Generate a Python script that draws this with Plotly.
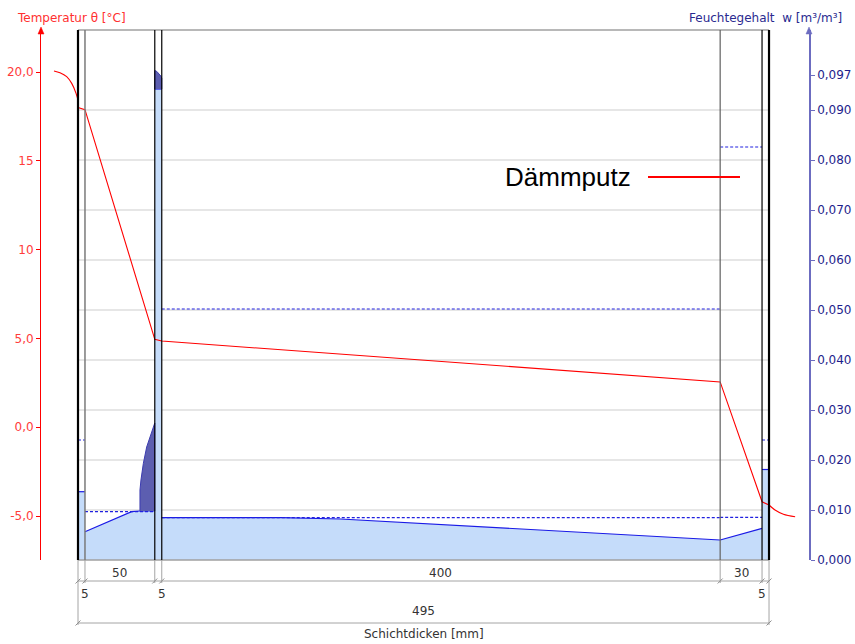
import numpy as np
import plotly.graph_objects as go

# ---------------- data ----------------
layer_thickness_mm = [5, 50, 5, 400, 30, 5]
layer_dim_text = ["5", "50", "5", "400", "30", "5"]
total_dim_text = "495"
x_axis_title = "Schichtdicken [mm]"
legend_name = "Dämmputz"
temp_title = "Temperatur θ [°C]"
moist_title = "Feuchtegehalt\u00a0 w [m³/m³]"

temp_tick_vals = [-5, 0, 5, 10, 15, 20]
temp_tick_text = ["-5,0", "0,0", "5,0", "10", "15", "20,0"]
moist_tick_vals = [0.0, 0.01, 0.02, 0.03, 0.04, 0.05, 0.06, 0.07, 0.08, 0.09, 0.097]
moist_tick_text = ["0,000", "0,010", "0,020", "0,030", "0,040", "0,050",
                   "0,060", "0,070", "0,080", "0,090", "0,097"]
grid_moist_vals = [0.01, 0.02, 0.03, 0.04, 0.05, 0.06, 0.07, 0.08, 0.09]

# temperature profile (inside air, wall, outside air)
temp_in_x_mm = [-17.2, -12.9, -8.1, -4.5, -1.4, 0.0]
temp_in_c = [20.06, 19.96, 19.74, 19.36, 18.80, 18.40]
temp_wall_x_mm = [0, 5, 55, 60, 460, 490, 495]
temp_wall_c = [18.00, 17.88, 4.95, 4.85, 2.55, -4.20, -4.38]
temp_out_x_mm = [495, 499.3, 505.3, 513.7]
temp_out_c = [-4.38, -4.66, -4.90, -5.04]

# moisture content per layer
moist_x_mm = [[0, 5], [5, 38.4, 44.4, 55], [55, 60],
              [60, 146, 188, 259, 454, 460], [460, 490], [490, 495]]
moist_w = [[0.01366, 0.01366], [0.00566, 0.00966, 0.0098, 0.0098], [0.0942, 0.0942],
           [0.00846, 0.00846, 0.0082, 0.0071, 0.0040, 0.0040], [0.0040, 0.00634],
           [0.0181, 0.0181]]

# condensation zones
cond_a_x_mm = [44.4, 45.1, 46.8, 49.2, 51.6, 55]
cond_a_top = [0.0140, 0.0160, 0.0193, 0.0226, 0.0246, 0.0274]
cond_a_base = 0.0098
cond_b_x_mm = [55, 56.5, 58, 59.3, 60]
cond_b_top = [0.0979, 0.0977, 0.0973, 0.0968, 0.0964]
cond_b_base = 0.0942

# reference moisture contents (dashed) per layer
ref_moist_w = [[0.024], [0.00966], [], [0.00846, 0.0502], [0.00854, 0.0826], [0.024]]

# ---------------- layout geometry ----------------
W, H = 855, 644
ML, MR, MT, MB = 41, 46, 30, 84
PW, PH = W - ML - MR, H - MT - MB
WALL_PX = 78          # pixel of x = 0 mm
PX_PER_MM = 1.396
x_range = [-(WALL_PX - ML) / PX_PER_MM, (W - MR - WALL_PX) / PX_PER_MM]
temp_range = [-7.477, 22.365]
moist_range = [0.0, 0.106]


def py(ypx):
    return (H - MB - ypx) / PH


def pxp(xpx):
    return (xpx - ML) / PW


def mm(dpx):
    return dpx / PX_PER_MM


bounds = np.concatenate([[0], np.cumsum(layer_thickness_mm)])
total = bounds[-1]

FILL = "#c5dcfa"
WLINE = "#1a1ae6"
COND = "#5c5eb0"
RED = "#ff0000"
DIM = "#a4a4a4"
TXT = "#333333"
FONT = "DejaVu Sans"

fig = go.Figure()

# moisture fills
for xs, ws in zip(moist_x_mm, moist_w):
    fig.add_trace(go.Scatter(x=xs, y=ws, yaxis="y", mode="lines", fill="tozeroy",
                             fillcolor=FILL, line=dict(color=WLINE, width=1.2),
                             hoverinfo="skip", showlegend=False))

# condensation zones
for cx, ct, cb in [(cond_a_x_mm, cond_a_top, cond_a_base), (cond_b_x_mm, cond_b_top, cond_b_base)]:
    px_ = [cx[0]] + list(cx) + [cx[-1]]
    py_ = [cb] + list(ct) + [cb]
    fig.add_trace(go.Scatter(x=px_, y=py_, yaxis="y", mode="lines", fill="toself",
                             fillcolor=COND, line=dict(color="#3c3cb0", width=1),
                             hoverinfo="skip", showlegend=False))

# dashed reference lines
for i, refs in enumerate(ref_moist_w):
    for r in refs:
        fig.add_trace(go.Scatter(x=[bounds[i], bounds[i + 1]], y=[r, r], yaxis="y",
                                 mode="lines", line=dict(color="#2020e0", width=1.2, dash="3px,2px"),
                                 hoverinfo="skip", showlegend=False))

# temperature
fig.add_trace(go.Scatter(x=temp_in_x_mm, y=temp_in_c, yaxis="y2", mode="lines",
                         line=dict(color=RED, width=1.1, shape="spline"), showlegend=False))
fig.add_trace(go.Scatter(x=temp_wall_x_mm, y=temp_wall_c, yaxis="y2", mode="lines",
                         line=dict(color=RED, width=1.1), showlegend=False))
fig.add_trace(go.Scatter(x=temp_out_x_mm, y=temp_out_c, yaxis="y2", mode="lines",
                         line=dict(color=RED, width=1.1, shape="spline"), showlegend=False))

shapes = []
# gridlines
for g in grid_moist_vals:
    shapes.append(dict(type="line", xref="x", yref="y", x0=0, x1=total, y0=g, y1=g,
                       line=dict(color="#dedede", width=1.3), layer="below"))
# top / bottom border
for yb in (0, 1):
    shapes.append(dict(type="line", xref="x", yref="paper", x0=0, x1=total, y0=yb, y1=yb,
                       line=dict(color="#a0a0a0", width=1.5), layer="above"))
# layer boundaries
b_colors = ["#000000", "#7a7a7a", "#000000", "#000000", "#606060", "#000000", "#000000"]
b_widths = [2.2, 1.5, 1.2, 1.2, 1.2, 1.2, 2.2]
for b, c, w in zip(bounds, b_colors, b_widths):
    shapes.append(dict(type="line", xref="x", yref="paper", x0=b, x1=b, y0=0, y1=1,
                       line=dict(color=c, width=w), layer="above"))

# dimension lines
ROW1, ROW2 = 581, 623
shapes.append(dict(type="line", xref="x", yref="paper", x0=0, x1=total, y0=py(ROW1), y1=py(ROW1),
                   line=dict(color=DIM, width=1)))
shapes.append(dict(type="line", xref="x", yref="paper", x0=0, x1=total, y0=py(ROW2), y1=py(ROW2),
                   line=dict(color=DIM, width=1)))
for i, b in enumerate(bounds):
    outer = i == 0 or i == len(bounds) - 1
    yend = ROW2 + 2 if outer else ROW1 + 2
    shapes.append(dict(type="line", xref="x", yref="paper", x0=b, x1=b, y0=0, y1=py(yend),
                       line=dict(color=DIM, width=1)))
    rows = [ROW1, ROW2] if outer else [ROW1]
    for r in rows:
        shapes.append(dict(type="line", xref="x", yref="paper", x0=b - mm(2.5), x1=b + mm(2.5),
                           y0=py(r + 2.5), y1=py(r - 2.5), line=dict(color="#909090", width=1)))

# axis arrows
for xa, col in ((ML, RED), (W - MR, "#6c6cc0")):
    shapes.append(dict(type="path", xref="paper", yref="paper",
                       path=f"M {pxp(xa)} {py(27)} L {pxp(xa - 3)} {py(34)} L {pxp(xa + 3)} {py(34)} Z",
                       fillcolor=col, line=dict(color=col, width=0.5)))

# legend line
shapes.append(dict(type="line", xref="paper", yref="paper", x0=pxp(648), x1=pxp(740),
                   y0=py(177), y1=py(177), line=dict(color=RED, width=2)))


def ann(x, y, text, xref="paper", size=12, color=TXT, family=FONT, xanchor="center"):
    return dict(x=x, y=y, xref=xref, yref="paper", text=text, showarrow=False,
                xanchor=xanchor, yanchor="middle",
                font=dict(family=family, size=size, color=color))


annotations = []
center = total / 2
for i, t in enumerate(layer_dim_text):
    th = layer_thickness_mm[i]
    if th >= 10:
        annotations.append(ann((bounds[i] + bounds[i + 1]) / 2, py(573), t, xref="x"))
    else:
        xb = bounds[i + 1] if bounds[i + 1] < center else bounds[i]
        annotations.append(ann(xb, py(594), t, xref="x"))
annotations.append(ann(center, py(611), total_dim_text, xref="x"))
annotations.append(ann(center, py(634), x_axis_title, xref="x"))
annotations.append(ann(pxp(71), py(18), temp_title, color="#ff3030"))
annotations.append(ann(pxp(765), py(18), moist_title, color="#2a2a90"))
annotations.append(ann(pxp(633), py(177), legend_name, size=26, color="#000000",
                       family="Liberation Sans, Arial", xanchor="right"))

fig.update_layout(
    width=W, height=H,
    margin=dict(l=ML, r=MR, t=MT, b=MB, autoexpand=False),
    paper_bgcolor="white", plot_bgcolor="white",
    showlegend=False,
    xaxis=dict(range=x_range, visible=False, showgrid=False, zeroline=False, fixedrange=True),
    yaxis=dict(range=moist_range, side="right", showline=True, linecolor="#6c6cc0", linewidth=1.5,
               ticks="outside", ticklen=4, tickcolor="#6c6cc0", tickvals=moist_tick_vals,
               ticktext=moist_tick_text, tickfont=dict(family=FONT, size=12, color="#1e1e8c"),
               showgrid=False, zeroline=False, fixedrange=True),
    yaxis2=dict(range=temp_range, side="left", overlaying="y", showline=True, linecolor=RED,
                linewidth=1, ticks="outside", ticklen=4, tickcolor=RED, tickvals=temp_tick_vals,
                ticktext=temp_tick_text, tickfont=dict(family=FONT, size=12, color="#ff3c3c"),
                showgrid=False, zeroline=False, fixedrange=True),
    shapes=shapes,
    annotations=annotations,
)

fig.write_html("out.html", config={"displayModeBar": False},
               post_script="document.body.style.margin='0';document.body.style.padding='0';")
